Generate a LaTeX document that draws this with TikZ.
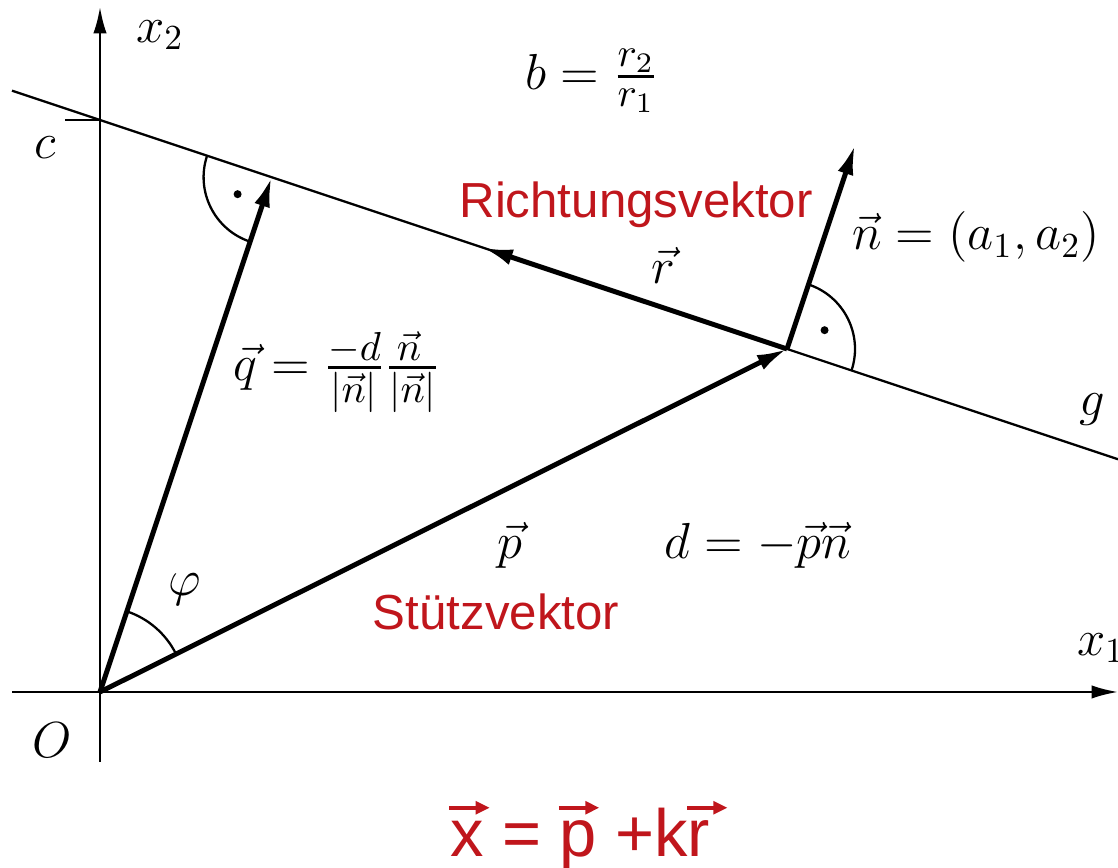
\documentclass[tikz,border=0pt]{standalone}
\usepackage{amsmath}
\usepackage{fontspec}
\usetikzlibrary{arrows.meta,calc}
\newfontfamily\arialsf{Liberation Sans}
\definecolor{rd}{HTML}{C0161C}
\newcommand{\sfvec}[1]{\tikz[baseline=0pt]{\node[inner sep=0,anchor=base west] (sv) at (0,0) {#1};\draw[rd,overlay,line width=1.1pt,-{Triangle[length=4pt,width=3.6pt]}] (0,14pt) -- (11.5pt,14pt);}}
\newcommand{\mfr}[2]{\genfrac{}{}{0.8pt}{1}{\scalebox{1.15}{$\scriptstyle #1$}}{\scalebox{1.15}{$\scriptstyle #2$}}}
\tikzset{
  ax/.style={line width=0.65pt,-{Latex[length=7.5pt,width=3.8pt]}},
  ln/.style={line width=0.65pt},
  vecarr/.style={line width=1.4pt,-{Latex[length=8.5pt,width=4.6pt]}},
  lbl/.style={font=\fontsize{14}{17}\selectfont,inner sep=0},
  rlbl/.style={font=\arialsf\fontsize{14}{17}\selectfont,text=rd,inner sep=0},
}
\begin{document}
\begin{tikzpicture}[x=0.01cm,y=0.01cm]
\useasboundingbox (0,0) rectangle (1118,868);
\coordinate (O) at (100,176);
\coordinate (P) at (787,519);
\coordinate (Q) at (271.6,690.8);
\coordinate (N) at (855,723);
\coordinate (R) at (483,620.3);
\coordinate (gl) at (12,777.3); \coordinate (gr) at (1118,408.7);
\coordinate (xa) at (12,176); \coordinate (xb) at (1118,176);
\coordinate (ya) at (100,106); \coordinate (yb) at (100,861);
\coordinate (c) at (100,748); \coordinate (ct) at (65,748);
\draw[ax] (xa) -- (xb); \draw[ax] (ya) -- (yb);
\draw[ln] (gl) -- (gr); \draw[ln] (ct) -- (c);
\draw[ln] ([shift={(-18.43:68)}]P) arc[start angle=-18.43,end angle=71.57,radius=68];
\draw[ln] ([shift={(161.57:68)}]Q) arc[start angle=161.57,end angle=251.57,radius=68];
\draw[ln] ([shift={(26.53:85)}]O) arc[start angle=26.53,end angle=71.57,radius=85];
\fill ($(P)+(26.57:42)$) circle[radius=4]; \fill ($(Q)+(206.57:38)$) circle[radius=4];
\draw[vecarr] (O) -- (P); \draw[vecarr] (O) -- (Q);
\draw[vecarr] (P) -- (N); \draw[vecarr] (P) -- (R);
\node[lbl] (lx2) at (160,833) {$x_2$};
\node[lbl] (lx1) at (1101,220) {$x_1$};
\node[lbl] (lc) at (45,720) {$c$};
\node[lbl] (lO) at (52,128) {$O$};
\node[lbl] (lg) at (1092,458) {$g$};
\node[lbl] (lphi) at (185,278) {$\varphi$};
\node[lbl] (lb) at (592,787) {$b=\mfr{r_2}{r_1}$};
\node[lbl] (lr) at (663,603) {$\vec r$};
\node[lbl] (ln) at (976,631) {$\vec n=(a_1,a_2)$};
\node[lbl] (lq) at (337,496) {$\vec q=\mfr{-d}{|\vec n|}\mfr{\vec n}{|\vec n|}$};
\node[lbl] (lp) at (510,323) {$\vec p$};
\node[lbl] (ld) at (758,323) {$d=-\vec p\vec n$};
\node[rlbl] (rv) at (636,663) {Richtungsvektor};
\node[rlbl] (sv) at (496,256) {Stützvektor};
\node[rlbl,font=\arialsf\fontsize{19}{23}\selectfont,anchor=base] (xeq) at (580,11) {\sfvec{x} = \sfvec{p} +k\sfvec{r}};
\end{tikzpicture}
\end{document}
